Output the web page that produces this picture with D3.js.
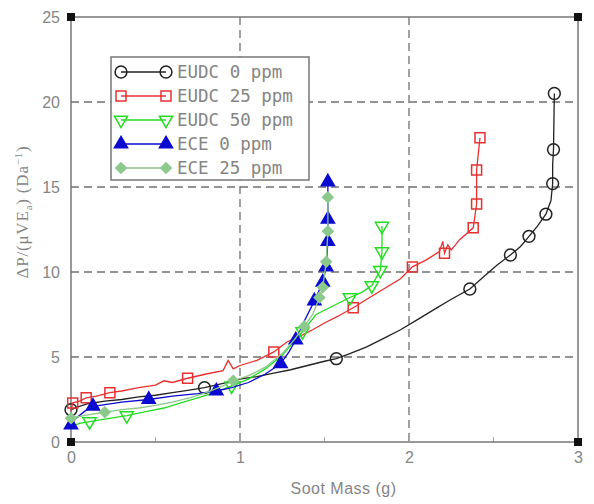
<!DOCTYPE html>
<html>
<head>
<meta charset="utf-8">
<script src="https://cdn.jsdelivr.net/npm/d3@7"></script>
<style>
body { margin: 0; background: #fff; }
text { font-family: "Liberation Sans", Arial, sans-serif; fill: #858585; }
.legend text { font-family: "DejaVu Sans Mono", monospace; }
</style>
</head>
<body>
<script>
// soot loading data
var eudc0X = [0, 0.05, 0.1, 0.2, 0.3, 0.4, 0.5, 0.6, 0.7, 0.79, 0.9, 1.0, 1.1, 1.2, 1.3, 1.4, 1.5, 1.57, 1.65, 1.75, 1.85, 1.95, 2.05, 2.15, 2.25, 2.36, 2.45, 2.52, 2.6, 2.66, 2.71, 2.76, 2.81, 2.84, 2.85, 2.85, 2.855, 2.86];
var eudc0Y = [1.9, 2.1, 2.25, 2.4, 2.5, 2.65, 2.75, 2.9, 3.05, 3.2, 3.45, 3.7, 3.85, 4.05, 4.25, 4.5, 4.75, 4.9, 5.2, 5.6, 6.1, 6.6, 7.2, 7.8, 8.4, 9.0, 9.8, 10.4, 11.0, 11.5, 12.1, 12.7, 13.4, 14.2, 15.2, 16.3, 17.2, 20.5];
var eudc0Marks = [0, 9, 17, 25, 28, 30, 32, 34, 36, 37];

var eudc25X = [0, 0.01, 0.05, 0.09, 0.15, 0.23, 0.3, 0.4, 0.5, 0.55, 0.6, 0.69, 0.8, 0.9, 0.93, 0.96, 1.0, 1.1, 1.2, 1.28, 1.35, 1.43, 1.5, 1.58, 1.67, 1.75, 1.85, 1.95, 2.02, 2.1, 2.18, 2.2, 2.21, 2.23, 2.25, 2.3, 2.38, 2.4, 2.4, 2.42];
var eudc25Y = [1.8, 2.3, 2.4, 2.6, 2.7, 2.9, 3.0, 3.2, 3.35, 3.6, 3.5, 3.75, 4.0, 4.2, 4.8, 4.3, 4.5, 4.8, 5.3, 5.9, 6.2, 6.6, 7.0, 7.4, 7.9, 8.4, 9.0, 9.6, 10.3, 10.7, 11.2, 11.8, 11.1, 11.6, 11.3, 11.9, 12.6, 14.0, 16.0, 17.9];
var eudc25Marks = [1, 3, 5, 11, 18, 24, 28, 32, 36, 37, 38, 39];

var eudc50X = [0, 0.05, 0.11, 0.2, 0.33, 0.45, 0.55, 0.65, 0.75, 0.85, 0.95, 1.05, 1.15, 1.25, 1.32, 1.37, 1.45, 1.55, 1.65, 1.72, 1.78, 1.83, 1.84, 1.84];
var eudc50Y = [0.9, 1.1, 1.2, 1.35, 1.55, 1.8, 2.0, 2.3, 2.6, 2.9, 3.3, 3.7, 4.3, 5.1, 5.9, 6.5, 7.5, 8.0, 8.5, 8.8, 9.2, 10.1, 11.2, 12.7];
var eudc50Marks = [2, 4, 10, 15, 18, 20, 21, 22, 23];

var ece0X = [0, 0.03, 0.08, 0.13, 0.2, 0.3, 0.46, 0.6, 0.75, 0.86, 0.95, 1.05, 1.15, 1.24, 1.29, 1.33, 1.38, 1.44, 1.49, 1.51, 1.52, 1.52, 1.52];
var ece0Y = [1.0, 1.4, 1.8, 2.1, 2.2, 2.35, 2.5, 2.7, 2.85, 3.0, 3.2, 3.5, 4.0, 4.6, 5.3, 6.0, 7.1, 8.3, 9.4, 10.3, 11.8, 13.1, 15.3];
var ece0Marks = [0, 3, 6, 9, 13, 15, 17, 18, 19, 20, 21, 22];

var ece25X = [0, 0.05, 0.1, 0.2, 0.3, 0.4, 0.5, 0.6, 0.7, 0.8, 0.9, 0.96, 1.05, 1.15, 1.25, 1.32, 1.38, 1.43, 1.47, 1.49, 1.51, 1.52, 1.52, 1.52];
var ece25Y = [1.4, 1.5, 1.6, 1.75, 1.9, 2.0, 2.15, 2.35, 2.6, 2.9, 3.3, 3.6, 3.9, 4.4, 5.2, 6.0, 6.8, 7.5, 8.5, 9.1, 10.6, 12.4, 13.5, 14.4];
var ece25Marks = [0, 3, 11, 16, 18, 19, 20, 21, 23];

var xTicks = [0, 1, 2, 3];
var xMinor = [0.5, 1.5, 2.5];
var yTicks = [0, 5, 10, 15, 20, 25];

var series = [
    { name: "EUDC 0 ppm", xs: eudc0X, ys: eudc0Y, marks: eudc0Marks, color: "#222222", shape: "circle", fill: false },
    { name: "EUDC 25 ppm", xs: eudc25X, ys: eudc25Y, marks: eudc25Marks, color: "#e83030", shape: "square", fill: false },
    { name: "EUDC 50 ppm", xs: eudc50X, ys: eudc50Y, marks: eudc50Marks, color: "#22dd22", shape: "down", fill: false },
    { name: "ECE 0 ppm", xs: ece0X, ys: ece0Y, marks: ece0Marks, color: "#0a0ad0", shape: "up", fill: true },
    { name: "ECE 25 ppm", xs: ece25X, ys: ece25Y, marks: ece25Marks, color: "#8cc98c", shape: "diamond", fill: true }
];

var W = 594, H = 504;
var margin = { top: 17, right: 16, bottom: 62, left: 71 },
    width = W - margin.left - margin.right,
    height = H - margin.top - margin.bottom;

var x = d3.scaleLinear().domain([0, 3]).range([0, width]);
var y = d3.scaleLinear().domain([0, 25]).range([height, 0]);

var svg = d3.select("body").append("svg")
    .attr("width", W)
    .attr("height", H)
    .append("g")
    .attr("transform", "translate(" + margin.left + "," + margin.top + ")");

// dashed gridlines
svg.append("g")
    .selectAll("line")
    .data(xTicks.slice(1, -1))
    .enter().append("line")
    .attr("x1", function(d) { return x(d); })
    .attr("x2", function(d) { return x(d); })
    .attr("y1", 0).attr("y2", height)
    .style("stroke", "#707070").style("stroke-width", 1.3)
    .style("stroke-dasharray", "8,5");

svg.append("g")
    .selectAll("line")
    .data(yTicks.slice(1, -1))
    .enter().append("line")
    .attr("y1", function(d) { return y(d); })
    .attr("y2", function(d) { return y(d); })
    .attr("x1", 0).attr("x2", width)
    .style("stroke", "#707070").style("stroke-width", 1.3)
    .style("stroke-dasharray", "8,5");

// minor ticks on the bottom
svg.append("g")
    .selectAll("line")
    .data(xMinor)
    .enter().append("line")
    .attr("x1", function(d) { return x(d); })
    .attr("x2", function(d) { return x(d); })
    .attr("y1", height).attr("y2", height - 5)
    .style("stroke", "#aaa");

// box
svg.append("rect")
    .attr("width", width).attr("height", height)
    .style("fill", "none").style("stroke", "#777").style("stroke-width", 1.5);

// axes (labels only)
var xAxis = d3.axisBottom(x).tickValues(xTicks).tickSize(0).tickPadding(10).tickFormat(d3.format("d"));
var yAxis = d3.axisLeft(y).tickValues(yTicks).tickSize(0).tickPadding(11).tickFormat(d3.format("d"));

svg.append("g")
    .attr("transform", "translate(0," + height + ")")
    .call(xAxis)
    .call(function(g) { g.select(".domain").remove(); })
    .selectAll("text").style("font-size", "16px").style("fill", "#858585");

svg.append("g")
    .call(yAxis)
    .call(function(g) { g.select(".domain").remove(); })
    .selectAll("text").style("font-size", "16px").style("fill", "#858585");

// corner squares
var corners = [[0, 0], [0, 25], [3, 25], [3, 0]];
svg.selectAll("rect.corner")
    .data(corners)
    .enter().append("rect")
    .attr("class", "corner")
    .attr("x", function(d) { return x(d[0]) - 4; })
    .attr("y", function(d) { return y(d[1]) - 4; })
    .attr("width", 8).attr("height", 8)
    .style("fill", "#111");

// axis labels
svg.append("text")
    .attr("x", width / 2 + 19)
    .attr("y", height + 52)
    .style("text-anchor", "middle")
    .style("font-size", "16px")
    .style("letter-spacing", "0.5px")
    .text("Soot Mass (g)");

var ylab = svg.append("text")
    .attr("transform", "translate(" + (28 - margin.left) + "," + (212 - margin.top) + ") rotate(-90)")
    .style("text-anchor", "middle")
    .style("font-family", "'Liberation Serif', serif")
    .style("font-size", "17px")
    .style("letter-spacing", "0.8px");
ylab.append("tspan").text("ΔP/(μVE");
ylab.append("tspan").attr("dy", 4).style("font-size", "11px").text("a");
ylab.append("tspan").attr("dy", -4).text(")  (Da");
ylab.append("tspan").attr("dy", -6).style("font-size", "11px").text("−1");
ylab.append("tspan").attr("dy", 6).text(")");

// markers
function symbolFor(s) {
    if (s == "circle") return d3.symbol().type(d3.symbolCircle).size(110)();
    if (s == "square") return d3.symbol().type(d3.symbolSquare).size(100)();
    if (s == "diamond") return d3.symbol().type(d3.symbolSquare).size(55)();
    return d3.symbol().type(d3.symbolTriangle).size(75)();
}

function drawMarker(g, s, px, py) {
    var rot = s.shape == "down" ? " rotate(180)" : (s.shape == "diamond" ? " rotate(45)" : "");
    g.append("path")
        .attr("d", symbolFor(s.shape))
        .attr("transform", "translate(" + px + "," + py + ")" + rot)
        .style("fill", s.fill ? s.color : "none")
        .style("stroke", s.color)
        .style("stroke-width", 1.5);
}

var line = d3.line()
    .x(function(d) { return x(d[0]); })
    .y(function(d) { return y(d[1]); });

series.forEach(function(s) {
    var pts = s.xs.map(function(v, i) { return [v, s.ys[i]]; });
    var g = svg.append("g");
    g.append("path")
        .datum(pts)
        .attr("d", line)
        .style("fill", "none")
        .style("stroke", s.color)
        .style("stroke-width", 1.3);
    s.marks.forEach(function(i) {
        drawMarker(g, s, x(pts[i][0]), y(pts[i][1]));
    });
});

// legend
var lg = svg.append("g").attr("class", "legend")
    .attr("transform", "translate(" + (111 - margin.left) + "," + (57 - margin.top) + ")");
lg.append("rect")
    .attr("width", 198).attr("height", 123)
    .style("fill", "#fff").style("stroke", "#777").style("stroke-width", 1.5);

series.forEach(function(s, i) {
    var ly = 15 + i * 24;
    lg.append("line")
        .attr("x1", 10).attr("x2", 55)
        .attr("y1", ly).attr("y2", ly)
        .style("stroke", s.color).style("stroke-width", 1.3);
    drawMarker(lg, s, 10, ly);
    drawMarker(lg, s, 55, ly);
    lg.append("text")
        .attr("x", 66)
        .attr("y", ly + 6)
        .style("font-size", "17.5px")
        .text(s.name);
});
</script>
</body>
</html>
